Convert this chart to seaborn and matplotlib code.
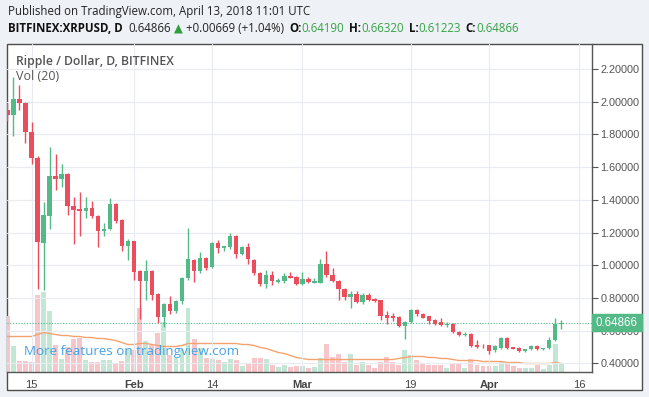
"""
Ripple / Dollar daily candles with volume, TradingView style snapshot
"""

import numpy as np
import pandas as pd
import matplotlib
matplotlib.use("Agg")
import matplotlib.pyplot as plt
from matplotlib.patches import Rectangle
import seaborn as sns

# ---- data (Jan 11 - Apr 13, 2018) ----
dates = pd.date_range("2018-01-11", "2018-04-13", freq="D")

opens = [1.95, 1.92, 2.015, 1.99, 1.816, 1.657, 1.133, 1.30, 1.545, 1.53, 1.56, 1.361, 1.343, 1.332, 1.353,
         1.30, 1.208, 1.22, 1.373, 1.275, 1.118,
         1.147, 0.963, 0.904, 0.963, 0.822, 0.683, 0.765, 0.718, 0.78, 0.924, 1.03, 0.963, 1.047, 0.99,
         1.133, 1.108, 1.112, 1.179, 1.071, 1.112, 1.03, 0.955, 0.888, 0.943, 0.898, 0.904, 0.937, 0.928,
         0.883, 0.918, 0.894, 0.894, 1.01, 0.943, 0.904, 0.857, 0.806, 0.826, 0.775, 0.82, 0.792, 0.785,
         0.694, 0.687, 0.683, 0.626, 0.652, 0.728, 0.704, 0.687, 0.663, 0.652, 0.632, 0.643, 0.591, 0.573,
         0.582, 0.51, 0.508,
         0.51, 0.479, 0.496, 0.555, 0.497, 0.494, 0.473, 0.485, 0.506, 0.488, 0.491, 0.54, 0.6419]
highs = [1.99, 2.15, 2.10, 2.00, 1.877, 1.67, 1.387, 1.72, 1.68, 1.62, 1.565, 1.42, 1.45, 1.42, 1.39,
         1.31, 1.26, 1.41, 1.38, 1.28, 1.16,
         1.15, 0.97, 1.03, 0.97, 0.83, 0.77, 0.81, 0.79, 0.93, 1.23, 1.04, 1.08, 1.05, 1.14,
         1.157, 1.12, 1.20, 1.185, 1.12, 1.137, 1.04, 0.96, 0.97, 0.965, 0.92, 0.95, 0.96, 0.935,
         0.96, 0.925, 0.92, 1.036, 1.09, 0.98, 0.91, 0.86, 0.84, 0.84, 0.83, 0.83, 0.80, 0.79,
         0.72, 0.71, 0.69, 0.66, 0.73, 0.735, 0.71, 0.69, 0.67, 0.675, 0.65, 0.645, 0.60, 0.59,
         0.585, 0.54, 0.52,
         0.515, 0.51, 0.56, 0.558, 0.50, 0.50, 0.49, 0.51, 0.51, 0.495, 0.56, 0.675, 0.6632]
lows = [1.88, 1.79, 1.95, 1.745, 1.62, 0.857, 0.85, 1.224, 1.46, 1.48, 1.306, 1.13, 1.18, 1.286, 1.29,
        1.11, 1.18, 1.215, 1.26, 1.087, 1.03,
        0.91, 0.67, 0.79, 0.785, 0.645, 0.62, 0.70, 0.71, 0.76, 0.91, 0.90, 0.95, 0.97, 0.98,
        1.075, 1.09, 1.10, 1.047, 1.06, 1.01, 0.94, 0.87, 0.863, 0.877, 0.89, 0.89, 0.92, 0.88,
        0.878, 0.89, 0.89, 0.89, 0.93, 0.895, 0.79, 0.79, 0.738, 0.77, 0.765, 0.78, 0.775, 0.663,
        0.643, 0.66, 0.62, 0.551, 0.645, 0.69, 0.675, 0.64, 0.635, 0.63, 0.625, 0.585, 0.565, 0.565,
        0.50, 0.495, 0.495,
        0.46, 0.47, 0.49, 0.49, 0.485, 0.468, 0.47, 0.48, 0.48, 0.48, 0.485, 0.535, 0.61223]
closes = [1.92, 2.015, 1.99, 1.816, 1.657, 1.139, 1.306, 1.545, 1.53, 1.56, 1.361, 1.337, 1.33, 1.353, 1.302,
          1.21, 1.224, 1.373, 1.269, 1.116, 1.147,
          0.96, 0.904, 0.963, 0.816, 0.683, 0.765, 0.718, 0.781, 0.924, 1.036, 0.963, 1.047, 0.983, 1.133,
          1.106, 1.116, 1.179, 1.071, 1.112, 1.035, 0.953, 0.888, 0.939, 0.902, 0.908, 0.933, 0.924, 0.888,
          0.916, 0.898, 0.902, 1.01, 0.939, 0.902, 0.853, 0.806, 0.826, 0.775, 0.82, 0.785, 0.779, 0.687,
          0.68, 0.677, 0.626, 0.652, 0.728, 0.70, 0.68, 0.659, 0.643, 0.632, 0.643, 0.591, 0.571, 0.582,
          0.506, 0.50, 0.503,
          0.475, 0.506, 0.555, 0.494, 0.49, 0.473, 0.487, 0.506, 0.485, 0.495, 0.545, 0.6419, 0.64866]

# volume (millions XRP) and its 20-day moving average as drawn
volume = [56, 26, 11, 11, 10, 77, 80, 61, 27, 13, 25, 33, 34, 12, 10, 10, 12, 12, 8, 11, 23,
          22, 64, 31, 27, 39, 50, 17, 14, 23, 64, 33, 24, 14, 13, 12, 10, 13, 12, 6, 8, 14, 14, 13,
          7, 5, 7, 5, 6,
          6, 4, 5, 14, 28, 15, 18, 10, 18, 7, 10, 7, 4, 10, 15, 10, 7, 22, 17, 12, 9, 7, 7, 7, 4,
          8, 8, 4, 13, 7, 6,
          6, 6, 10, 8, 6, 4, 4, 4, 7, 3, 7, 28, 8]
vol_ma20 = [35, 35, 35, 35, 35, 37, 39, 38, 37, 36, 36, 35, 35, 34, 34, 33, 33, 32, 31, 29, 27,
            27, 28, 28, 27, 26, 25, 25, 25, 26, 28, 28, 28, 28, 28, 28, 28, 28, 28, 27, 27, 26, 24, 23,
            21, 19, 18, 16, 14,
            13, 12, 12, 12, 12, 12, 12, 12, 12, 12, 12, 12, 12, 12, 12, 12, 13, 14, 15, 15, 15, 14, 14,
            13, 13, 12, 11, 11, 11, 11, 10,
            10, 10, 10, 9, 9, 9, 8, 8, 8, 8, 8, 9, 8]

price_ticks = [0.4, 0.6, 0.8, 1.0, 1.2, 1.4, 1.6, 1.8, 2.0, 2.2]
date_ticks = ["2018-01-15", "2018-02-01", "2018-02-14", "2018-03-01",
              "2018-03-19", "2018-04-01", "2018-04-16"]
date_tick_labels = ["15", "Feb", "14", "Mar", "19", "Apr", "16"]

# ---- style ----
UP = "#53b987"
DOWN = "#eb4d5c"
UP_VOL = "#c4e6d4"
DOWN_VOL = "#f7c6cb"
MA_COL = "#f5a36e"
GRID = "#e8ecf1"
AXIS = "#555555"
BG = "#eef1f5"

sns.set_theme(style="white")
plt.rcParams["font.family"] = ["Open Sans", "DejaVu Sans"]

W, H = 649, 397


def fx(px):
    return px / W


def fy(py):
    return 1 - py / H


fig = plt.figure(figsize=(W / 100, H / 100), dpi=100, facecolor=BG)
renderer = fig.canvas.get_renderer()

# white chart panel with frame
fig.add_artist(Rectangle((fx(6.5), fy(390)), (642 - 6.5) / W, (390 - 43.5) / H,
                         transform=fig.transFigure, fc="white", ec="#4d4d4d", lw=1, zorder=0))

ax = fig.add_axes([fx(7), fy(371.5), (592 - 7) / W, (371.5 - 44) / H])
axv = ax.twinx()
ax.set_zorder(axv.get_zorder() + 1)
ax.patch.set_visible(False)
axv.patch.set_visible(False)

d = np.array([(t - dates[0]).days for t in dates])
o = np.array(opens)
h = np.array(highs)
l = np.array(lows)
c = np.array(closes)
up = c >= o

# volume pane
axv.bar(d, volume, width=0.82, color=[UP_VOL if u else DOWN_VOL for u in up], lw=0)
sns.lineplot(x=d, y=vol_ma20, ax=axv, color=MA_COL, lw=1)
axv.set_ylim(0, 371.5 - 44)
axv.set_yticks([])
for s in axv.spines.values():
    s.set_visible(False)

# candles
cols = [UP if u else DOWN for u in up]
ax.vlines(d, l, h, colors=cols, lw=1, zorder=3)
body = np.maximum(np.abs(c - o), 0.004)
ax.bar(d, body, bottom=np.minimum(o, c), width=0.72, color=cols, lw=0, zorder=4)

ax.axhline(c[-1], color=UP, ls=(0, (1, 1.5)), lw=0.8, zorder=2)

px_per_day = 6.02
x15 = (pd.Timestamp("2018-01-15") - dates[0]).days
ax.set_xlim(x15 - (31.5 - 7) / px_per_day, x15 + (592 - 31.5) / px_per_day)
ax.set_ylim(0.35, 2.353)

ax.grid(True, color=GRID, lw=0.8, zorder=0)
ax.set_axisbelow(True)

ax.yaxis.tick_right()
ax.set_yticks(price_ticks)
ax.set_yticklabels([f"{v:.5f}" for v in price_ticks])
ax.tick_params(axis="y", direction="out", length=4, width=0.8, color=AXIS,
               labelcolor=AXIS, labelsize=7.8, pad=2)
for lab in ax.get_yticklabels():
    lab.set_family(["Liberation Sans", "DejaVu Sans"])

xt = [(pd.Timestamp(t) - dates[0]).days for t in date_ticks]
ax.set_xticks(xt)
ax.set_xticklabels(date_tick_labels)
ax.tick_params(axis="x", direction="out", length=4, width=0.8, color=AXIS,
               labelcolor="#444444", labelsize=8, pad=2)
for lab in ax.get_xticklabels():
    lab.set_family(["Liberation Sans", "DejaVu Sans"])
    if lab.get_text() in ("Feb", "Mar", "Apr"):
        lab.set_fontweight("bold")

for side in ("top", "left"):
    ax.spines[side].set_visible(False)
for side in ("right", "bottom"):
    ax.spines[side].set_color(AXIS)
    ax.spines[side].set_linewidth(1)

# last price tag on the price scale (covers the 0.60000 label as in the original)
tag_w = (642 - 592) / 585
tag_h = 17 / 163.5
ax.add_patch(Rectangle((1.0, c[-1] - tag_h / 2), tag_w, tag_h,
                       transform=ax.get_yaxis_transform(), fc=UP, ec=UP,
                       clip_on=False, zorder=9))
ax.text(1.0 + tag_w / 2, c[-1], f"{c[-1]:.5f}", transform=ax.get_yaxis_transform(),
        color="white", fontsize=8.3, va="center", ha="center", clip_on=False, zorder=10,
        family=["Liberation Sans", "DejaVu Sans"])

# legend texts in the pane
ax.text(fx(16), fy(61), "Ripple / Dollar, D, BITFINEX", transform=fig.transFigure,
        color="#555555", fontsize=8.8, fontweight="semibold", va="center")
ax.text(fx(16), fy(77), "Vol (20)", transform=fig.transFigure,
        color="#555555", fontsize=9, va="center")
ax.text(fx(24), fy(352), "More features on tradingview.com", transform=fig.transFigure,
        color="#45a3e5", fontsize=9.6, va="center", zorder=6)

# header
fig.text(fx(8), fy(11), "Published on TradingView.com, April 13, 2018 11:01 UTC",
         color="#222222", fontsize=8.3, va="center")

GREEN_TXT = "#36a346"
parts = [("BITFINEX:XRPUSD, D", "#111111", "bold", 6),
         ("0.64866", "#222222", "normal", 3),
         ("\u25B2", "#2e9e3f", "normal", 3),
         ("+0.00669 (+1.04%)", "#222222", "normal", 5),
         ("O:", "#111111", "bold", 0),
         (f"{opens[-1]:.5f}", GREEN_TXT, "normal", 5),
         ("H:", "#111111", "bold", 0),
         (f"{highs[-1]:.5f}", GREEN_TXT, "normal", 5),
         ("L:", "#111111", "bold", 0),
         (f"{lows[-1]:.5f}", GREEN_TXT, "normal", 5),
         ("C:", "#111111", "bold", 0),
         (f"{closes[-1]:.5f}", GREEN_TXT, "normal", 0)]
xpos = 8
for txt, col, wt, gap in parts:
    t = fig.text(fx(xpos), fy(29), txt, color=col, fontweight=wt, fontsize=8.3, va="center")
    bb = t.get_window_extent(renderer=renderer)
    xpos = bb.x1 + gap

fig.savefig("out.png", dpi=100, facecolor=BG)
